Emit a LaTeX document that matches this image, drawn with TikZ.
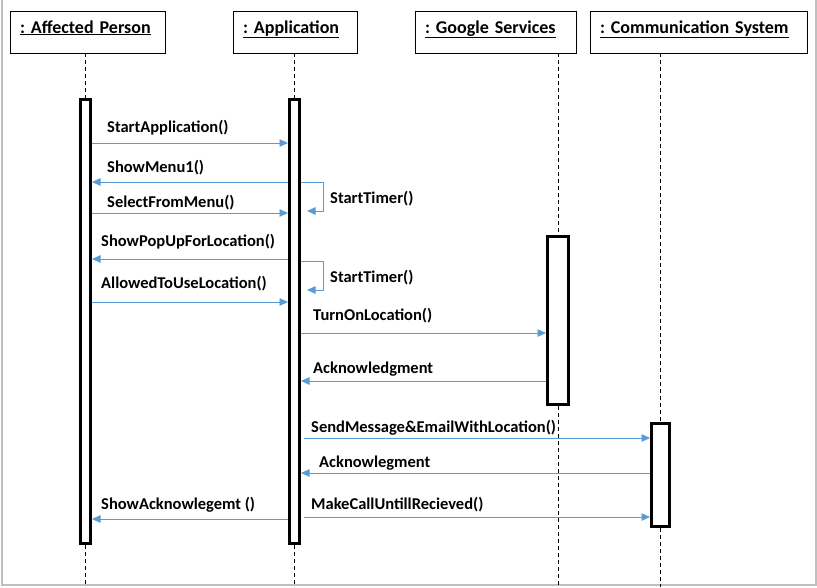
\documentclass[tikz,border=0pt]{standalone}
\usepackage{fontspec}
\setmainfont{Carlito}
\usepackage{xcolor}
\usetikzlibrary{arrows.meta,positioning}
\definecolor{msgblue}{RGB}{91,155,213}
\frenchspacing

\begin{document}
\begin{tikzpicture}[x=1pt, y=-1pt,
  head/.style={rectangle, draw=black, line width=0.8pt, fill=white,
               font=\bfseries\fontsize{18}{21}\selectfont, align=left,
               inner xsep=10pt, inner ysep=7pt,
               text height=15pt, text depth=13pt},
  actbar/.style={rectangle, draw=black, line width=3pt, fill=white,
                 inner sep=0pt},
  life/.style={dash pattern=on 4pt off 3pt, line width=0.8pt},
  msg/.style={draw=msgblue, line width=0.8pt,
              -{Triangle[length=8.5pt,width=7.5pt]}},
  lbl/.style={font=\bfseries\fontsize{16.5}{19}\selectfont,
              anchor=base west, inner sep=0pt},
]
\useasboundingbox (0,0) rectangle (817,587);

%% Page frame (left, bottom, right)
\draw[black!25, line width=1.5pt] (2,0) -- (2,585) -- (816,585) -- (816,0);

%% Row 1 — Object heads
\node[head, text width=135pt] (ap)  at (87.5,32)  {\underline{: Affected Person}};
\node[head, text width=104pt] (app) at (295,32)   {\underline{: Application}};
\node[head, text width=141pt] (gs)  at (495.5,32) {\underline{: Google Services}};
\node[head, text width=197pt] (cs)  at (698.5,32) {\underline{: Communication System}};

%% Activation bars
\node[actbar, minimum width=10pt, minimum height=444pt] (apbar)  at (85.5,321.5) {};
\node[actbar, minimum width=10pt, minimum height=444pt] (appbar) at (294.5,321.5) {};
\node[actbar, minimum width=21pt, minimum height=168pt] (gsbar)  at (558,320.5) {};
\node[actbar, minimum width=18pt, minimum height=103pt] (csbar)  at (660.5,475) {};

%% Lifelines
\coordinate (bot) at (0,587);
\draw[life] (apbar |- ap.south) -- (apbar.north);
\draw[life] (apbar.south) -- (apbar |- bot);
\draw[life] (appbar |- app.south) -- (appbar.north);
\draw[life] (appbar.south) -- (appbar |- bot);
\draw[life] (gsbar |- gs.south) -- (gsbar.north);
\draw[life] (gsbar.south) -- (gsbar |- bot);
\draw[life] (csbar |- cs.south) -- (csbar.north);
\draw[life] (csbar.south) -- (csbar |- bot);

%% ── Message levels ──────────────────────────────────────────────
\coordinate (m1)  at (0,143);
\coordinate (m2)  at (0,182);
\coordinate (t1a) at (0,182);
\coordinate (t1b) at (0,211);
\coordinate (m3)  at (0,213);
\coordinate (m4)  at (0,259);
\coordinate (t2a) at (0,261);
\coordinate (t2b) at (0,290);
\coordinate (m5)  at (0,302);
\coordinate (m6)  at (0,333);
\coordinate (m7)  at (0,381);
\coordinate (m8)  at (0,438);
\coordinate (m9)  at (0,473);
\coordinate (m10) at (0,517);
\coordinate (m11) at (0,519);

%% Affected Person <-> Application
\draw[msg] (apbar.east |- m1) -- (appbar.west |- m1);
\draw[msg] (appbar.west |- m2) -- (apbar.east |- m2);
\draw[msg] (apbar.east |- m3) -- (appbar.west |- m3);
\draw[msg] (appbar.west |- m4) -- (apbar.east |- m4);
\draw[msg] (apbar.east |- m5) -- (appbar.west |- m5);
\draw[msg] (appbar.west |- m11) -- (apbar.east |- m11);

%% Self calls on Application
\draw[msg] (appbar.east |- t1a) -- ++(22,0) |- ([xshift=6pt]appbar.east |- t1b);
\draw[msg] (appbar.east |- t2a) -- ++(22,0) |- ([xshift=6pt]appbar.east |- t2b);

%% Application <-> Google Services
\draw[msg] (appbar.east |- m6) -- (gsbar.west |- m6);
\draw[msg] (gsbar.west |- m7) -- (appbar.east |- m7);

%% Application <-> Communication System
\draw[msg] ([xshift=3pt]appbar.east |- m8) -- (csbar.west |- m8);
\draw[msg] (csbar.west |- m9) -- (appbar.east |- m9);
\draw[msg] ([xshift=3pt]appbar.east |- m10) -- (csbar.west |- m10);

%% Labels
\node[lbl] (l1)  at (107,132) {StartApplication()};
\node[lbl] (l2)  at (107,172) {ShowMenu1()};
\node[lbl] (l3)  at (107,207) {SelectFromMenu()};
\node[lbl] (l4)  at (101,246) {ShowPopUpForLocation()};
\node[lbl] (l5)  at (101,288) {AllowedToUseLocation()};
\node[lbl] (lt1) at (330,203) {StartTimer()};
\node[lbl] (lt2) at (330,282) {StartTimer()};
\node[lbl] (l6)  at (313,320) {TurnOnLocation()};
\node[lbl] (l7)  at (313,373) {Acknowledgment};
\node[lbl] (l8)  at (311,432) {SendMessage\&EmailWithLocation()};
\node[lbl] (l9)  at (319,467) {Acknowlegment};
\node[lbl] (l10) at (311,509) {MakeCallUntillRecieved()};
\node[lbl] (l11) at (101,509) {ShowAcknowlegemt ()};

\end{tikzpicture}
\end{document}
